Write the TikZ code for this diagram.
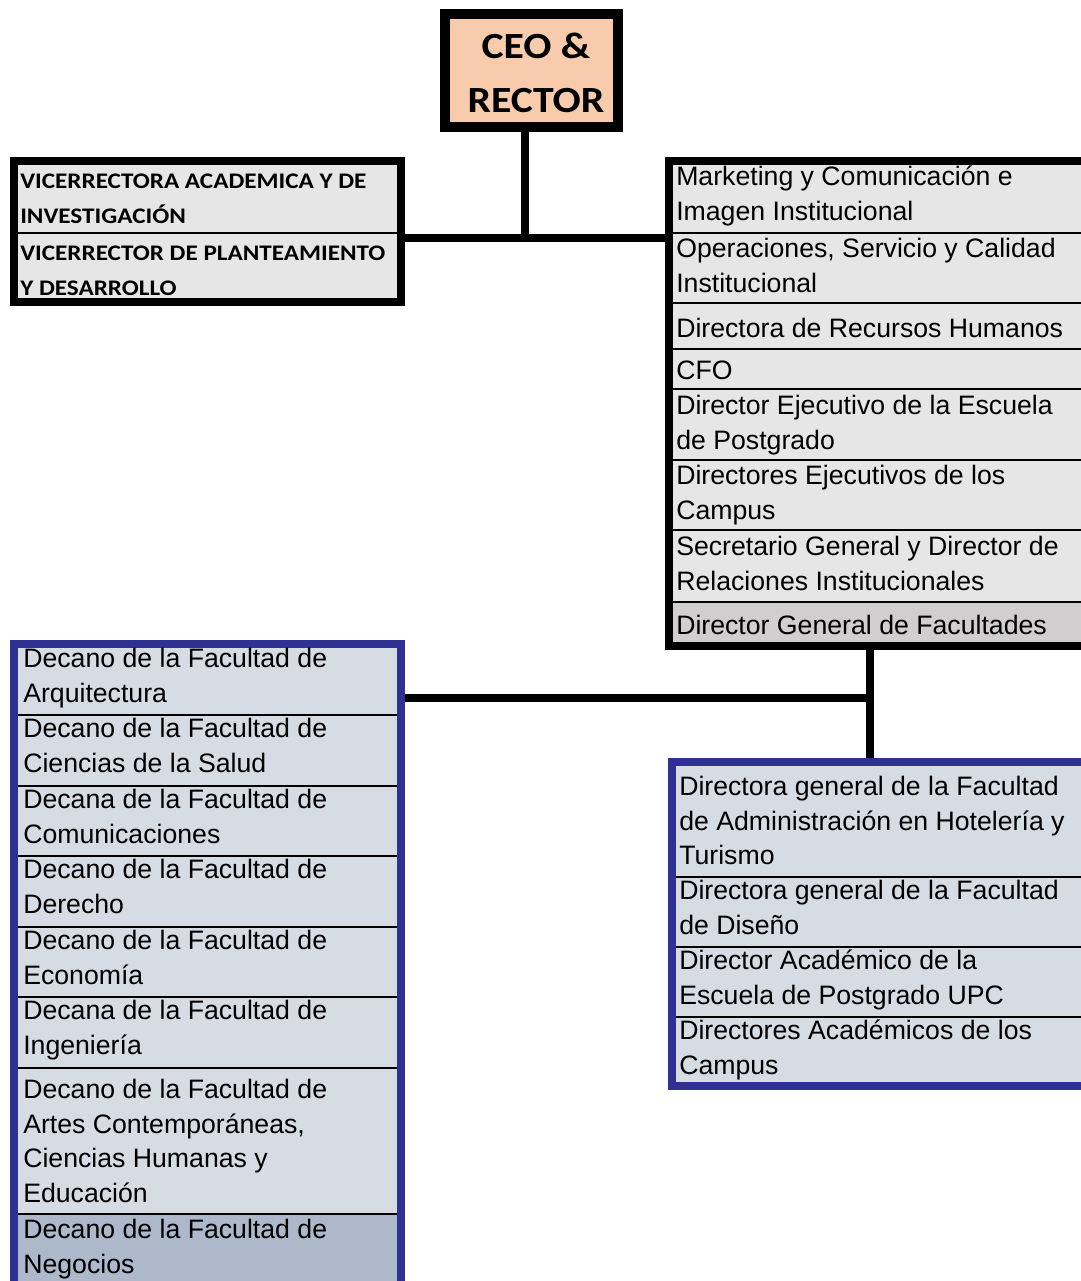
\documentclass[tikz,border=0pt]{standalone}
\usepackage{fontspec}
\setmainfont{Liberation Sans}
\newfontfamily\calibold{Carlito}[FakeStretch=1.13]
\usetikzlibrary{fit}
\definecolor{peach}{HTML}{F8CBAD}
\definecolor{cellgray}{HTML}{E7E6E6}
\definecolor{cellgrayd}{HTML}{D0CECE}
\definecolor{cellblue}{HTML}{D6DCE4}
\definecolor{cellblued}{HTML}{ADB9CA}
\definecolor{navyblue}{RGB}{46,49,146}

\begin{document}
\begin{tikzpicture}[x=0.75pt,y=-0.75pt,
  conn/.style={line width=6pt},
  frame/.style={draw=black,line width=6pt,inner sep=0pt},
  blueframe/.style={frame,draw=navyblue},
  divider/.style={line width=1.6pt},
  txt/.style={anchor=north west,inner sep=0pt,yshift=1.5pt,align=left,font=\fontsize{20}{25.9}\selectfont},
  boldtxt/.style={anchor=north west,inner sep=0pt,align=left,font=\calibold\bfseries\fontsize{16.7}{26.25}\selectfont}]
\useasboundingbox (0,0) rectangle (1081,1281);
\clip (0,0) rectangle (1081,1281);
\fill[white] (0,0) rectangle (1081,1281);

% CEO
\node[draw=black,line width=7pt,fill=peach,minimum width=129.75pt,minimum height=84.75pt] (ceo) at (531.5,70.5) {};
\node[align=center,inner sep=0pt,font=\calibold\bfseries\fontsize{27.7}{40.5}\selectfont] (ceotxt) at (536,73) {CEO \&\\RECTOR};

% vicerrectores
\fill[cellgray] (14,161) rectangle (401,302);
\draw[divider] (14,233) -- (401,233);
\node[frame,fit={(14,161) (401,302)}] (vp) {};
\node[boldtxt] (vp1) at (20,174) {VICERRECTORA ACADEMICA Y DE\\INVESTIGACIÓN};
\node[boldtxt] (vp2) at (20,246) {VICERRECTOR DE PLANTEAMIENTO\\Y DESARROLLO};

% direcciones
\fill[cellgray] (669,161) rectangle (1100,602);
\fill[cellgrayd] (669,602) rectangle (1100,646);
\foreach \y in {233,303,349,389,460,530,602}
  \draw[divider] (669,\y) -- (1100,\y);
\node[frame,fit={(669,161) (1100,646)}] (dir) {};
\node[txt] (d1) at (676,168) {Marketing y Comunicación e\\Imagen Institucional};
\node[txt] (d2) at (676,240) {Operaciones, Servicio y Calidad\\Institucional};
\node[txt] (d3) at (676,320) {Directora de Recursos Humanos};
\node[txt] (d4) at (676,363) {CFO};
\node[txt] (d5) at (676,397) {Director Ejecutivo de la Escuela\\de Postgrado};
\node[txt] (d6) at (676,467) {Directores Ejecutivos de los\\Campus};
\node[txt] (d7) at (676,538) {Secretario General y Director de\\Relaciones Institucionales};
\node[txt] (d8) at (676,617) {Director General de Facultades};

% decanos
\fill[cellblue] (14,644) rectangle (401,1214);
\fill[cellblued] (14,1214) rectangle (401,1300);
\foreach \y in {715,786,856,927,997,1068,1214}
  \draw[divider] (14,\y) -- (401,\y);
\node[blueframe,fit={(14,644) (401,1300)}] (dec) {};
\node[txt] (f1) at (23,650) {Decano de la Facultad de\\Arquitectura};
\node[txt] (f2) at (23,720) {Decano de la Facultad de\\Ciencias de la Salud};
\node[txt] (f3) at (23,791) {Decana de la Facultad de\\Comunicaciones};
\node[txt] (f4) at (23,861) {Decano de la Facultad de\\Derecho};
\node[txt] (f5) at (23,932) {Decano de la Facultad de\\Economía};
\node[txt] (f6) at (23,1002) {Decana de la Facultad de\\Ingeniería};
\node[txt] (f7) at (23,1081) {Decano de la Facultad de\\Artes Contemporáneas,\\Ciencias Humanas y\\Educación};
\node[txt] (f8) at (23,1221) {Decano de la Facultad de\\Negocios};

% directores de facultad
\fill[cellblue] (672,762) rectangle (1100,1086);
\foreach \y in {877,947,1017}
  \draw[divider] (672,\y) -- (1100,\y);
\node[blueframe,fit={(672,762) (1100,1086)}] (fac) {};
\node[txt] (g1) at (679,778) {Directora general de la Facultad\\de Administración en Hotelería y\\Turismo};
\node[txt] (g2) at (679,882) {Directora general de la Facultad\\de Diseño};
\node[txt] (g3) at (679,952) {Director Académico de la\\Escuela de Postgrado UPC};
\node[txt] (g4) at (679,1022) {Directores Académicos de los\\Campus};

% conectores
\coordinate (j1) at (525,238);
\coordinate (j2) at (870,698);
\draw[conn] (ceo.south -| j1) -- (j1);
\draw[conn] (vp.east |- j1) -- (dir.west |- j1);
\draw[conn] (dir.south -| j2) -- (fac.north -| j2);
\draw[conn] (dec.east |- j2) -- (j2);
\end{tikzpicture}
\end{document}
